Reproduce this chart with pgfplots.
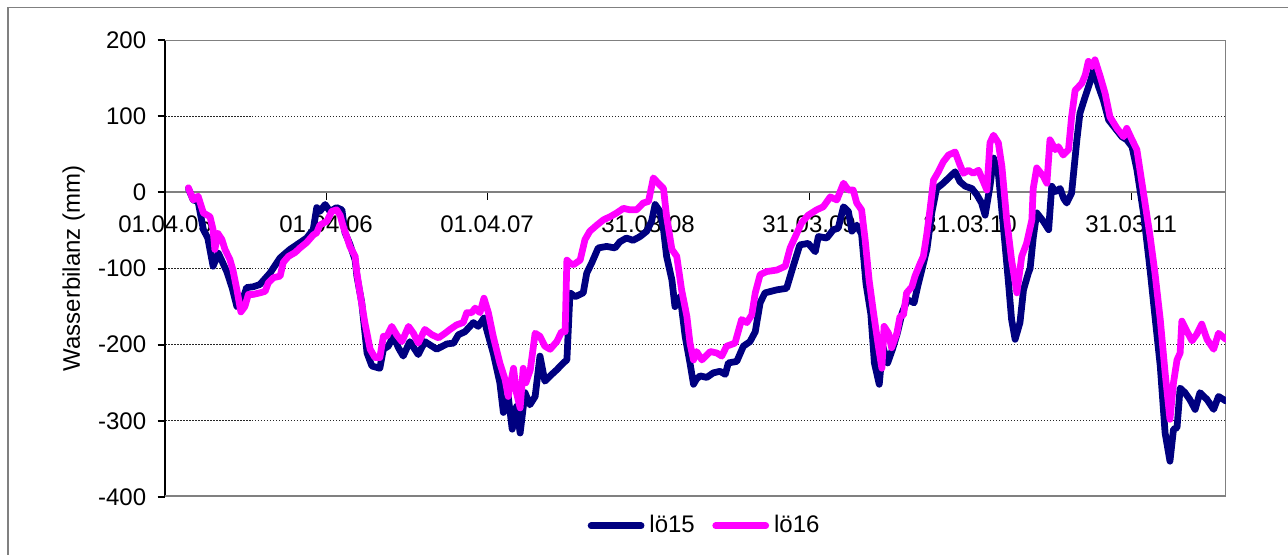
\documentclass[border=0pt]{standalone}
\usepackage{pgfplots}
\pgfplotsset{compat=1.18}
\usepackage{fontspec}
\setmainfont{Liberation Sans}
\definecolor{navyline}{RGB}{0,0,128}
\definecolor{pinkline}{RGB}{255,0,255}
\definecolor{framegray}{RGB}{128,128,128}
\newcommand{\chartfont}{\fontsize{9.6}{11.5}\selectfont}
\begin{document}
\begin{tikzpicture}
\begin{axis}[
    set layers,
    at={(66pt,-198.8pt)}, anchor=south west,
    scale only axis, width=424.4pt, height=182.8pt,
    xmin=0, xmax=2405, ymin=-400, ymax=200,
    axis x line*=middle, axis y line*=left,
    hide obscured x ticks=false, hide obscured y ticks=false,
    x axis line style={framegray, line width=0.8pt},
    y axis line style={black, line width=0.8pt},
    tick align=outside,
    major tick length=3pt,
    xtick style={black, line width=0.4pt},
    ytick style={black, line width=0.8pt},
    xtick={0,365,730,1095,1460,1825,2190},
    xticklabels={01.04.05,01.04.06,01.04.07,31.03.08,31.03.09,31.03.10,31.03.11},
    ytick={-400,-300,-200,-100,0,100,200},
    /pgf/number format/assume math mode=true,
    tick label style={font=\chartfont},
    xticklabel style={yshift=-2.8pt},
    yticklabel style={xshift=-1pt},
    ymajorgrids,
    grid style={black!85, line width=0.4pt, dash pattern=on 0.6pt off 0.6pt},
    every axis y label/.style={at={(rel axis cs:0,0.5)}, xshift=-36.5pt, rotate=90, anchor=center, font=\chartfont},
    ylabel={Wasserbilanz (mm)},
    legend style={at={(rel axis cs:0.51,-0.063)}, anchor=center, draw=none, fill=none,
        legend columns=2, font=\chartfont, inner sep=0pt,
        /tikz/every even column/.append style={column sep=5pt}},
    legend image code/.code={\draw[#1] (0pt,0pt) -- (20pt,0pt);},
    no markers,
]
% plot area frame
\draw[framegray, line width=0.8pt] (rel axis cs:0,1) -- (rel axis cs:1,1) -- (rel axis cs:1,0);
\draw[framegray, line width=1.2pt] (rel axis cs:0,0) -- (rel axis cs:1,0);
\addplot[navyline, line width=2.7pt, line join=round, line cap=round] coordinates {
(53,5) (64,-10) (75,-12) (87,-49) (97,-60) (109,-97) (121,-80) (129,-90) (140,-104) (152,-125)
(163,-150) (172,-148) (185,-125) (200,-124) (215,-121) (238,-106) (261,-86) (283,-75) (306,-66)
(321,-60) (336,-49) (344,-20) (351,-25) (363,-16) (374,-25) (389,-20) (401,-23) (408,-53) (419,-68)
(431,-89) (435,-110) (446,-145) (458,-211) (469,-228) (487,-231) (495,-206) (506,-202) (518,-189)
(529,-204) (540,-215) (555,-196) (574,-213) (589,-196) (616,-206) (639,-199) (654,-198) (665,-187)
(680,-183) (699,-171) (710,-176) (723,-165) (729,-180) (744,-211) (759,-250) (767,-289) (778,-268)
(787,-311) (797,-281) (805,-316) (816,-263) (827,-279) (839,-268) (850,-215) (861,-248) (873,-241)
(888,-233) (903,-224) (911,-220) (918,-132) (930,-137) (948,-132) (956,-106) (967,-93) (982,-73)
(1001,-71) (1020,-73) (1031,-65) (1046,-60) (1061,-63) (1077,-58) (1092,-51) (1103,-38) (1111,-16)
(1122,-25) (1130,-49) (1137,-84) (1149,-115) (1156,-150) (1168,-137) (1179,-189) (1190,-224)
(1198,-252) (1205,-245) (1213,-241) (1228,-243) (1243,-237) (1258,-235) (1270,-239) (1277,-224)
(1296,-222) (1311,-202) (1326,-196) (1338,-183) (1349,-145) (1360,-132) (1387,-128) (1409,-126)
(1424,-97) (1439,-69) (1458,-67) (1474,-78) (1481,-58) (1500,-60) (1515,-49) (1526,-47) (1538,-19)
(1549,-25) (1557,-51) (1568,-43) (1579,-55) (1589,-120) (1600,-160) (1608,-224) (1619,-252)
(1627,-202) (1638,-224) (1649,-206) (1660,-185) (1671,-158) (1683,-141) (1698,-145) (1706,-124)
(1727,-75) (1738,-27) (1749,5) (1764,12) (1780,21) (1791,27) (1802,14) (1814,8) (1829,5) (1840,-3)
(1851,-14) (1859,-30) (1870,8) (1878,45) (1889,25) (1901,-49) (1912,-119) (1919,-167) (1927,-193)
(1938,-171) (1946,-128) (1957,-106) (1961,-100) (1968,-60) (1976,-27) (1991,-38) (2003,-49)
(2010,8) (2018,1) (2029,5) (2037,-8) (2044,-14) (2055,-1) (2067,69) (2074,104) (2086,126)
(2097,145) (2105,161) (2116,139) (2127,121) (2139,95) (2154,84) (2169,73) (2180,69) (2192,60)
(2203,30) (2218,-27) (2233,-102) (2244,-163) (2256,-228) (2267,-316) (2278,-353) (2286,-311)
(2294,-309) (2301,-257) (2312,-263) (2323,-272) (2335,-285) (2346,-263) (2362,-272) (2377,-285)
(2388,-268) (2405,-274)
};
\addplot[pinkline, line width=2.7pt, line join=round, line cap=round] coordinates {
(53,6) (64,-10) (75,-5) (87,-27) (102,-32) (109,-49) (113,-75) (120,-54) (129,-62) (136,-75)
(147,-88) (154,-102) (163,-128) (172,-157) (181,-150) (189,-134) (200,-134) (215,-132) (227,-130)
(234,-119) (246,-112) (261,-110) (268,-92) (280,-84) (295,-79) (306,-73) (321,-66) (336,-56)
(344,-53) (351,-43) (367,-38) (378,-25) (389,-23) (397,-30) (404,-45) (412,-58) (419,-71) (431,-84)
(435,-106) (442,-132) (453,-171) (465,-206) (476,-217) (487,-217) (495,-189) (503,-189) (514,-176)
(525,-187) (537,-196) (552,-176) (563,-185) (574,-198) (589,-180) (605,-187) (620,-191) (635,-185)
(646,-180) (661,-174) (676,-171) (684,-158) (695,-158) (703,-152) (714,-158) (723,-139) (733,-158)
(744,-189) (759,-224) (771,-246) (778,-268) (790,-231) (797,-264) (805,-283) (812,-231) (818,-250)
(828,-233) (839,-185) (850,-189) (861,-202) (873,-206) (888,-196) (899,-183) (907,-183) (911,-89)
(918,-93) (926,-95) (941,-89) (952,-62) (963,-51) (979,-43) (994,-36) (1009,-32) (1024,-27)
(1039,-21) (1054,-23) (1069,-23) (1084,-14) (1096,-12) (1107,19) (1118,12) (1130,5) (1137,-32)
(1149,-75) (1160,-84) (1171,-128) (1183,-163) (1190,-198) (1198,-220) (1205,-209) (1217,-220)
(1236,-209) (1251,-211) (1262,-215) (1273,-202) (1292,-198) (1307,-167) (1319,-171) (1330,-161)
(1338,-132) (1349,-108) (1364,-104) (1387,-102) (1406,-97) (1417,-73) (1432,-54) (1443,-40)
(1458,-30) (1477,-23) (1492,-19) (1508,-6) (1523,-10) (1538,12) (1549,3) (1560,3) (1568,-14)
(1579,-23) (1587,-62) (1596,-115) (1606,-158) (1617,-202) (1625,-231) (1630,-176) (1640,-185)
(1647,-204) (1659,-185) (1666,-163) (1674,-161) (1681,-132) (1693,-124) (1700,-110) (1712,-93)
(1719,-84) (1727,-54) (1734,-23) (1742,16) (1753,27) (1764,40) (1776,49) (1791,53) (1802,36)
(1810,25) (1821,29) (1832,25) (1844,29) (1855,14) (1863,3) (1870,65) (1878,75) (1889,65) (1897,34)
(1908,-36) (1919,-89) (1931,-132) (1942,-84) (1953,-67) (1965,-36) (1968,5) (1976,32) (1991,21)
(1999,12) (2006,69) (2018,56) (2025,60) (2036,49) (2048,56) (2055,99) (2063,134) (2078,143)
(2086,154) (2093,172) (2101,165) (2108,174) (2120,152) (2131,130) (2142,99) (2158,84) (2173,73)
(2180,84) (2192,69) (2203,56) (2218,-1) (2233,-58) (2244,-106) (2256,-167) (2267,-237) (2278,-298)
(2286,-250) (2294,-220) (2301,-211) (2305,-169) (2316,-182) (2328,-195) (2339,-186) (2350,-173)
(2362,-193) (2377,-206) (2388,-185) (2405,-193)
};
\legend{lö15, lö16}
\end{axis}
% outer chart frame
\draw[framegray, line width=0.6pt] (3.2pt,-230pt) -- (3.2pt,-3pt) -- (530pt,-3pt);
\pgfresetboundingbox
\useasboundingbox (0,0) rectangle (515.2pt,-222pt);
\end{tikzpicture}
\end{document}
